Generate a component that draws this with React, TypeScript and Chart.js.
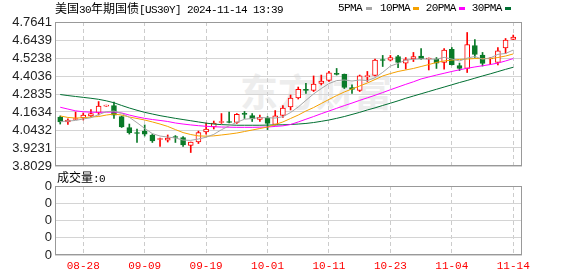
import React, { useEffect, useRef } from 'react';
import { Chart, registerables } from 'chart.js';

Chart.register(...registerables);

// ---------- data ----------
const dates = [
  '08-23', '08-26', '08-27', '08-28', '08-29', '08-30', '09-02', '09-03', '09-04', '09-05',
  '09-06', '09-09', '09-10', '09-11', '09-12', '09-13', '09-16', '09-17', '09-18', '09-19',
  '09-20', '09-23', '09-24', '09-25', '09-26', '09-27', '09-30', '10-01', '10-02', '10-03',
  '10-04', '10-07', '10-08', '10-09', '10-10', '10-11', '10-14', '10-15', '10-16', '10-17',
  '10-18', '10-21', '10-22', '10-23', '10-24', '10-25', '10-28', '10-29', '10-30', '10-31',
  '11-01', '11-04', '11-05', '11-06', '11-07', '11-08', '11-11', '11-12', '11-13', '11-14',
];
const xTickIndex = [3, 11, 19, 27, 35, 43, 51, 59];

const open = [
  4.130, 4.097, 4.113, 4.123, 4.137, 4.160, 4.203, 4.207, 4.133, 4.060,
  4.023, 4.036, 4.010, 3.980, 3.976, 3.996, 3.993, 3.940, 3.963, 4.030,
  4.063, 4.093, 4.097, 4.093, 4.150, 4.140, 4.113, 4.123, 4.080, 4.140,
  4.197, 4.257, 4.314, 4.307, 4.354, 4.374, 4.420, 4.414, 4.327, 4.307,
  4.400, 4.407, 4.510, 4.510, 4.534, 4.490, 4.517, 4.537, 4.517, 4.517,
  4.494, 4.581, 4.474, 4.454, 4.607, 4.544, 4.517, 4.494, 4.591, 4.647,
];
const high = [
  4.137, 4.117, 4.163, 4.157, 4.180, 4.233, 4.209, 4.230, 4.137, 4.083,
  4.050, 4.077, 4.016, 3.990, 4.010, 4.006, 4.000, 3.963, 4.036, 4.090,
  4.103, 4.153, 4.163, 4.153, 4.167, 4.153, 4.143, 4.133, 4.173, 4.207,
  4.277, 4.330, 4.354, 4.404, 4.410, 4.434, 4.454, 4.417, 4.344, 4.410,
  4.434, 4.517, 4.541, 4.541, 4.541, 4.527, 4.561, 4.587, 4.524, 4.527,
  4.587, 4.594, 4.490, 4.694, 4.647, 4.561, 4.527, 4.594, 4.654, 4.677,
];
const low = [
  4.083, 4.080, 4.113, 4.110, 4.130, 4.143, 4.201, 4.120, 4.060, 4.016,
  3.960, 4.003, 3.960, 3.933, 3.963, 3.960, 3.933, 3.893, 3.953, 4.016,
  4.050, 4.087, 4.090, 4.087, 4.120, 4.100, 4.100, 4.046, 4.077, 4.127,
  4.177, 4.250, 4.287, 4.300, 4.344, 4.367, 4.410, 4.320, 4.287, 4.300,
  4.367, 4.404, 4.467, 4.504, 4.460, 4.450, 4.500, 4.514, 4.444, 4.454,
  4.450, 4.477, 4.440, 4.427, 4.527, 4.470, 4.480, 4.477, 4.554, 4.647,
];
const close = [
  4.097, 4.110, 4.120, 4.143, 4.153, 4.203, 4.207, 4.143, 4.063, 4.026,
  4.020, 4.016, 3.970, 3.983, 3.990, 3.993, 3.943, 3.963, 4.026, 4.050,
  4.090, 4.097, 4.093, 4.147, 4.147, 4.117, 4.127, 4.087, 4.137, 4.190,
  4.257, 4.314, 4.307, 4.350, 4.370, 4.424, 4.414, 4.327, 4.314, 4.404,
  4.404, 4.510, 4.507, 4.527, 4.494, 4.514, 4.534, 4.520, 4.520, 4.490,
  4.577, 4.480, 4.454, 4.614, 4.547, 4.487, 4.520, 4.571, 4.644, 4.664,
];
const ma5 = [
  4.099, 4.103, 4.107, 4.117, 4.125, 4.146, 4.165, 4.170, 4.154, 4.128,
  4.092, 4.054, 4.019, 4.003, 3.996, 3.990, 3.976, 3.974, 3.983, 3.995,
  4.014, 4.045, 4.071, 4.095, 4.115, 4.120, 4.126, 4.125, 4.123, 4.132,
  4.160, 4.197, 4.241, 4.284, 4.320, 4.353, 4.373, 4.377, 4.370, 4.377,
  4.373, 4.392, 4.428, 4.470, 4.488, 4.510, 4.515, 4.518, 4.516, 4.516,
  4.528, 4.517, 4.504, 4.523, 4.534, 4.516, 4.524, 4.548, 4.554, 4.577,
];
const ma10 = [
  4.137, 4.127, 4.123, 4.125, 4.130, 4.133, 4.143, 4.150, 4.143, 4.130,
  4.120, 4.110, 4.097, 4.083, 4.067, 4.046, 4.026, 4.013, 4.004, 4.002,
  4.004, 4.010, 4.016, 4.023, 4.033, 4.043, 4.053, 4.063, 4.080, 4.097,
  4.120, 4.143, 4.170, 4.193, 4.220, 4.247, 4.273, 4.297, 4.317, 4.337,
  4.357, 4.380, 4.404, 4.420, 4.434, 4.444, 4.454, 4.467, 4.480, 4.494,
  4.504, 4.510, 4.514, 4.517, 4.520, 4.520, 4.520, 4.527, 4.537, 4.551,
];
const ma20 = [
  4.195, 4.183, 4.171, 4.165, 4.162, 4.161, 4.162, 4.163, 4.157, 4.143,
  4.131, 4.121, 4.113, 4.107, 4.100, 4.090, 4.083, 4.077, 4.072, 4.068,
  4.065, 4.063, 4.062, 4.061, 4.061, 4.061, 4.062, 4.063, 4.067, 4.071,
  4.080, 4.097, 4.115, 4.133, 4.152, 4.170, 4.188, 4.206, 4.223, 4.241,
  4.258, 4.275, 4.293, 4.312, 4.330, 4.348, 4.365, 4.384, 4.397, 4.410,
  4.422, 4.434, 4.445, 4.455, 4.464, 4.472, 4.480, 4.490, 4.504, 4.520,
];
const ma30 = [
  4.280, 4.273, 4.267, 4.261, 4.255, 4.248, 4.238, 4.225, 4.207, 4.190,
  4.175, 4.161, 4.150, 4.139, 4.130, 4.121, 4.113, 4.105, 4.097, 4.089,
  4.083, 4.079, 4.077, 4.075, 4.075, 4.075, 4.075, 4.076, 4.077, 4.078,
  4.080, 4.083, 4.087, 4.093, 4.101, 4.110, 4.121, 4.133, 4.147, 4.161,
  4.177, 4.191, 4.207, 4.222, 4.238, 4.255, 4.270, 4.285, 4.300, 4.315,
  4.330, 4.345, 4.360, 4.374, 4.389, 4.404, 4.418, 4.433, 4.448, 4.462,
];
const volume = dates.map(() => 0);

const yTicks = [3.8029, 3.9231, 4.0432, 4.1634, 4.2835, 4.4036, 4.5238, 4.6439, 4.7641];
const volTicks = [0, 1, 2, 3, 4];
const volTickLabels = ['0', '0', '0', '0', '0'];

// ---------- styles ----------
const RED = '#ff0000';
const GREEN = '#0a7a28';
const MA_COLORS = ['#a6a6a6', '#f5a100', '#ff00ff', '#006f32'];
const MA_NAMES = ['5PMA', '10PMA', '20PMA', '30PMA'];
const X_MIN = -0.68;
const X_MAX = 60.14;

const boxPlugin = {
  id: 'boxPlugin',
  afterDraw(chart: any) {
    const { ctx, chartArea } = chart;
    ctx.save();
    ctx.strokeStyle = '#999999';
    ctx.lineWidth = 1;
    const l = Math.round(chartArea.left) + 0.5;
    const t = Math.round(chartArea.top) + 0.5;
    const r = Math.round(chartArea.right) - 0.5;
    const b = Math.round(chartArea.bottom) - 0.5;
    ctx.strokeRect(l, t, r - l, b - t);
    ctx.restore();
  },
};

const cjk: React.CSSProperties = { fontFamily: '"Noto Sans CJK SC", sans-serif', fontSize: 12 };
const mono: React.CSSProperties = { fontFamily: '"Liberation Mono", monospace', fontSize: 11, letterSpacing: -0.6 };

export default function App() {
  const mainRef = useRef<HTMLCanvasElement>(null);
  const volRef = useRef<HTMLCanvasElement>(null);

  useEffect(() => {
    const up = close.map((c, i) => c >= open[i]);
    const xScaleBase = {
      type: 'linear' as const,
      min: X_MIN,
      max: X_MAX,
      offset: false,
      afterBuildTicks: (s: any) => {
        s.ticks = xTickIndex.map((v) => ({ value: v }));
      },
      grid: { color: '#cccccc', drawTicks: false, offset: false },
      border: { display: false, dash: [4, 3] },
    };

    const main = new Chart(mainRef.current as HTMLCanvasElement, {
      type: 'bar',
      data: {
        datasets: [
          ...[ma5, ma10, ma20, ma30].map((arr, k) => ({
            type: 'line' as const,
            label: MA_NAMES[k],
            data: arr.map((v, i) => ({ x: i, y: v })),
            borderColor: MA_COLORS[k],
            borderWidth: 1,
            pointRadius: 0,
            fill: false,
            tension: 0,
            order: 0,
          })),
          {
            type: 'bar' as const,
            label: 'body',
            data: open.map((o, i) => ({ x: i, y: [o, close[i]] })),
            backgroundColor: up.map((u) => (u ? '#ffffff' : GREEN)),
            borderColor: up.map((u) => (u ? RED : GREEN)),
            borderWidth: 1,
            borderSkipped: false,
            barThickness: 5,
            minBarLength: 1,
            grouped: false,
            order: 1,
          } as any,
          {
            type: 'bar' as const,
            label: 'wick',
            data: low.map((l, i) => ({ x: i, y: [l, high[i]] })),
            backgroundColor: up.map((u) => (u ? RED : GREEN)),
            borderWidth: 0,
            barThickness: 1,
            grouped: false,
            order: 2,
          } as any,
        ],
      },
      options: {
        responsive: false,
        animation: false,
        devicePixelRatio: 1,
        layout: { padding: { left: 0, right: 56, top: 22, bottom: 110 } },
        plugins: { legend: { display: false }, tooltip: { enabled: false } },
        scales: {
          x: {
            ...xScaleBase,
            afterFit: (s: any) => {
              s.height = 0;
            },
            ticks: { display: false },
          },
          y: {
            type: 'linear',
            min: yTicks[0],
            max: yTicks[yTicks.length - 1],
            afterBuildTicks: (s: any) => {
              s.ticks = yTicks.map((v) => ({ value: v }));
            },
            afterFit: (s: any) => {
              s.width = 55;
            },
            ticks: {
              autoSkip: false,
              padding: 3,
              color: '#222222',
              font: { family: '"Liberation Sans", Arial, sans-serif', size: 13 },
              callback: (v: any) => Number(v).toFixed(4),
            },
            grid: { color: '#d4d4d4', drawTicks: false },
            border: { display: false },
          },
        },
      } as any,
      plugins: [boxPlugin],
    });

    const vol = new Chart(volRef.current as HTMLCanvasElement, {
      type: 'bar',
      data: {
        datasets: [
          {
            label: '成交量',
            data: volume.map((v, i) => ({ x: i, y: v })),
            backgroundColor: '#888888',
            barThickness: 5,
          } as any,
        ],
      },
      options: {
        responsive: false,
        animation: false,
        devicePixelRatio: 1,
        layout: { padding: { left: 0, right: 56, top: 186, bottom: 0 } },
        plugins: { legend: { display: false }, tooltip: { enabled: false } },
        scales: {
          x: {
            ...xScaleBase,
            afterFit: (s: any) => {
              s.height = 21;
            },
            ticks: {
              autoSkip: false,
              maxRotation: 0,
              padding: 4,
              color: RED,
              font: { family: '"Liberation Mono", monospace', size: 11 },
              callback: (v: any) => dates[Math.round(Number(v))],
            },
          },
          y: {
            type: 'linear',
            min: volTicks[0],
            max: volTicks[volTicks.length - 1],
            afterBuildTicks: (s: any) => {
              s.ticks = volTicks.map((v) => ({ value: v }));
            },
            afterFit: (s: any) => {
              s.width = 55;
            },
            ticks: {
              autoSkip: false,
              padding: 3,
              color: '#222222',
              font: { family: '"Liberation Sans", Arial, sans-serif', size: 13 },
              callback: (_v: any, idx: number) => volTickLabels[idx],
            },
            grid: { color: '#d4d4d4', drawTicks: false },
            border: { display: false },
          },
        },
      } as any,
      plugins: [boxPlugin],
    });

    return () => {
      main.destroy();
      vol.destroy();
    };
  }, []);

  const legendLeft = [338, 380, 425.7, 471.7];
  const markerLeft = [366, 413, 459, 505];

  return (
    <div
      style={{
        position: 'fixed',
        left: 0,
        top: 0,
        width: 578,
        height: 276,
        background: '#ffffff',
        overflow: 'hidden',
        color: '#000',
      }}
    >
      <div
        style={{
          position: 'absolute',
          left: 240,
          top: 70,
          fontFamily: '"Noto Sans CJK SC", sans-serif',
          fontWeight: 700,
          fontSize: 38,
          lineHeight: '40px',
          color: '#ededed',
          whiteSpace: 'nowrap',
        }}
      >
        东方财富
      </div>
      <canvas ref={mainRef} width={578} height={276} style={{ position: 'absolute', left: 0, top: 0, width: 578, height: 276 }} />
      <canvas ref={volRef} width={578} height={276} style={{ position: 'absolute', left: 0, top: 0, width: 578, height: 276 }} />
      <div style={{ position: 'absolute', left: 55, top: 0, height: 16, lineHeight: '16px', whiteSpace: 'pre' }}>
        <span style={cjk}>美国</span>
        <span style={mono}>30</span>
        <span style={cjk}>年期国债</span>
        <span style={mono}>[US30Y] 2024-11-14 13:39</span>
      </div>
      {MA_NAMES.map((n, k) => (
        <React.Fragment key={n}>
          <div style={{ position: 'absolute', left: legendLeft[k], top: 0, height: 16, lineHeight: '16px', whiteSpace: 'pre', ...mono }}>
            {n}
          </div>
          <div style={{ position: 'absolute', left: markerLeft[k], top: 7, width: 6, height: 3, background: MA_COLORS[k] }} />
        </React.Fragment>
      ))}
      <div style={{ position: 'absolute', left: 57, top: 169, height: 16, lineHeight: '16px', whiteSpace: 'pre' }}>
        <span style={cjk}>成交量</span>
        <span style={mono}>:0</span>
      </div>
    </div>
  );
}
